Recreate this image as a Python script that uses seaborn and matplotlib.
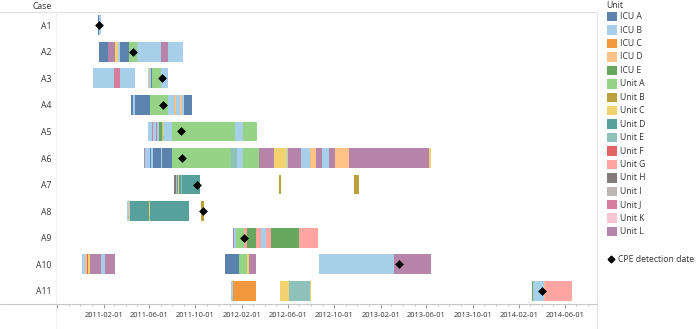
import numpy as np
import pandas as pd
import seaborn as sns
import matplotlib.pyplot as plt
import matplotlib.dates as mdates
from matplotlib.patches import Rectangle
from matplotlib.lines import Line2D
from matplotlib.ticker import FuncFormatter

# cases (rows) and units (colours)
cases = ['A1', 'A2', 'A3', 'A4', 'A5', 'A6', 'A7', 'A8', 'A9', 'A10', 'A11']
units = ['ICU A', 'ICU B', 'ICU C', 'ICU D', 'ICU E', 'Unit A', 'Unit B', 'Unit C', 'Unit D',
         'Unit E', 'Unit F', 'Unit G', 'Unit H', 'Unit I', 'Unit J', 'Unit K', 'Unit L']
unit_colors = ['#4E79A7', '#A0CBE8', '#F28E2B', '#FFBE7D', '#59A14F', '#8CD17D', '#B6992D', '#F1CE63',
               '#499894', '#86BCB6', '#E15759', '#FF9D9A', '#79706E', '#BAB0AC', '#D37295', '#FABFD2',
               '#B07AA1']

# ward stays, one line per case
seg_case = [
    'A1', 'A1',
    'A2', 'A2', 'A2', 'A2', 'A2', 'A2', 'A2', 'A2', 'A2',
    'A3', 'A3', 'A3', 'A3', 'A3', 'A3', 'A3', 'A3',
    'A4', 'A4', 'A4', 'A4', 'A4', 'A4', 'A4', 'A4', 'A4', 'A4',
    'A5', 'A5', 'A5', 'A5', 'A5', 'A5', 'A5', 'A5', 'A5', 'A5', 'A5', 'A5',
    'A6', 'A6', 'A6', 'A6', 'A6', 'A6', 'A6', 'A6', 'A6', 'A6', 'A6', 'A6',
    'A6', 'A6', 'A6', 'A6', 'A6', 'A6', 'A6', 'A6', 'A6', 'A6', 'A6',
    'A7', 'A7', 'A7', 'A7', 'A7', 'A7', 'A7', 'A7', 'A7',
    'A8', 'A8', 'A8', 'A8', 'A8', 'A8',
    'A9', 'A9', 'A9', 'A9', 'A9', 'A9', 'A9', 'A9', 'A9', 'A9',
    'A10', 'A10', 'A10', 'A10', 'A10', 'A10', 'A10', 'A10', 'A10', 'A10', 'A10', 'A10', 'A10',
    'A11', 'A11', 'A11', 'A11', 'A11', 'A11', 'A11', 'A11', 'A11',
]
seg_unit = [
    'ICU A', 'ICU B',
    'ICU A', 'Unit L', 'Unit C', 'ICU B', 'ICU A', 'Unit A', 'ICU B', 'Unit L', 'ICU B',
    'ICU B', 'Unit J', 'ICU B', 'ICU D', 'ICU B', 'ICU A', 'Unit A', 'ICU B',
    'ICU A', 'ICU B', 'ICU A', 'Unit A', 'ICU B', 'ICU D', 'ICU B', 'ICU D', 'ICU B', 'ICU A',
    'ICU B', 'Unit J', 'ICU B', 'Unit L', 'ICU B', 'ICU E', 'Unit A', 'ICU D', 'ICU B', 'Unit A', 'ICU B', 'Unit A',
    'Unit L', 'ICU B', 'ICU A', 'ICU B', 'ICU A', 'ICU B', 'ICU A', 'Unit A', 'Unit E', 'ICU B', 'Unit A', 'Unit L',
    'Unit C', 'ICU B', 'Unit L', 'ICU B', 'ICU D', 'Unit L', 'ICU B', 'Unit L', 'ICU D', 'Unit L', 'Unit C',
    'Unit H', 'Unit I', 'Unit D', 'Unit C', 'Unit D', 'Unit E', 'Unit D', 'Unit B', 'Unit B',
    'ICU B', 'ICU D', 'Unit D', 'Unit C', 'Unit D', 'Unit B',
    'Unit L', 'ICU B', 'Unit A', 'Unit G', 'ICU E', 'Unit G', 'ICU B', 'Unit G', 'ICU E', 'Unit G',
    'ICU B', 'ICU D', 'Unit F', 'Unit C', 'Unit L', 'ICU B', 'Unit L', 'ICU A', 'Unit A', 'Unit C', 'Unit L', 'ICU B', 'Unit L',
    'ICU B', 'ICU C', 'Unit C', 'Unit E', 'Unit C', 'ICU E', 'ICU B', 'ICU D', 'Unit G',
]
seg_start = [
    '2011-01-16', '2011-01-20',
    '2011-01-21', '2011-02-12', '2011-03-04', '2011-03-12', '2011-03-17', '2011-04-10', '2011-05-01', '2011-07-03', '2011-07-21',
    '2011-01-04', '2011-03-01', '2011-03-15', '2011-05-28', '2011-06-01', '2011-06-05', '2011-06-08', '2011-07-03',
    '2011-04-15', '2011-04-20', '2011-04-24', '2011-06-02', '2011-07-20', '2011-08-05', '2011-08-10', '2011-08-22', '2011-08-26', '2011-09-01',
    '2011-05-30', '2011-06-09', '2011-06-11', '2011-06-19', '2011-06-22', '2011-06-27', '2011-07-05', '2011-07-08', '2011-07-10', '2011-07-30', '2012-01-14', '2012-02-03',
    '2011-05-18', '2011-05-20', '2011-06-04', '2011-06-07', '2011-06-11', '2011-07-02', '2011-07-05', '2011-07-31', '2012-01-03', '2012-01-18', '2012-02-03', '2012-03-17',
    '2012-04-26', '2012-05-29', '2012-06-02', '2012-07-06', '2012-07-29', '2012-08-13', '2012-08-29', '2012-09-16', '2012-10-04', '2012-11-09', '2013-06-08',
    '2011-08-06', '2011-08-10', '2011-08-13', '2011-08-17', '2011-08-20', '2011-08-23', '2011-08-26', '2012-05-09', '2012-11-23',
    '2011-04-03', '2011-04-09', '2011-04-12', '2011-06-01', '2011-06-03', '2011-10-17',
    '2012-01-07', '2012-01-10', '2012-01-17', '2012-02-05', '2012-02-15', '2012-03-09', '2012-03-21', '2012-04-05', '2012-04-18', '2012-06-29',
    '2010-12-05', '2010-12-14', '2010-12-18', '2010-12-23', '2010-12-27', '2011-01-24', '2011-02-05', '2011-12-19', '2012-01-24', '2012-02-15', '2012-02-18', '2012-08-22', '2013-03-08',
    '2012-01-03', '2012-01-09', '2012-05-10', '2012-06-04', '2012-07-29', '2014-03-06', '2014-03-09', '2014-04-06', '2014-04-11',
]
seg_end = [
    '2011-01-20', '2011-01-24',
    '2011-02-12', '2011-03-04', '2011-03-12', '2011-03-17', '2011-04-10', '2011-05-01', '2011-07-03', '2011-07-21', '2011-08-28',
    '2011-03-01', '2011-03-15', '2011-04-24', '2011-06-01', '2011-06-05', '2011-06-08', '2011-07-03', '2011-07-20',
    '2011-04-20', '2011-04-24', '2011-06-02', '2011-07-20', '2011-08-05', '2011-08-10', '2011-08-22', '2011-08-26', '2011-09-01', '2011-09-22',
    '2011-06-09', '2011-06-11', '2011-06-19', '2011-06-22', '2011-06-27', '2011-07-05', '2011-07-08', '2011-07-10', '2011-07-30', '2012-01-14', '2012-02-03', '2012-03-11',
    '2011-05-20', '2011-06-04', '2011-06-07', '2011-06-11', '2011-07-02', '2011-07-05', '2011-07-31', '2012-01-03', '2012-01-18', '2012-02-03', '2012-03-17', '2012-04-26',
    '2012-05-29', '2012-06-02', '2012-07-06', '2012-07-29', '2012-08-13', '2012-08-29', '2012-09-16', '2012-10-04', '2012-11-09', '2013-06-08', '2013-06-13',
    '2011-08-10', '2011-08-13', '2011-08-17', '2011-08-20', '2011-08-23', '2011-08-26', '2011-10-14', '2012-05-14', '2012-12-05',
    '2011-04-09', '2011-04-12', '2011-06-01', '2011-06-03', '2011-09-15', '2011-10-24',
    '2012-01-10', '2012-01-17', '2012-02-05', '2012-02-15', '2012-03-09', '2012-03-21', '2012-04-05', '2012-04-18', '2012-06-29', '2012-08-19',
    '2010-12-14', '2010-12-18', '2010-12-23', '2010-12-27', '2011-01-24', '2011-02-05', '2011-03-04', '2012-01-24', '2012-02-15', '2012-02-18', '2012-03-08', '2013-03-08', '2013-06-13',
    '2012-01-09', '2012-03-08', '2012-06-04', '2012-07-29', '2012-08-02', '2014-03-09', '2014-04-06', '2014-04-11', '2014-06-19',
]

# CPE detection dates, one per case
detect_date = ['2011-01-21', '2011-04-20', '2011-07-05', '2011-07-07', '2011-08-24', '2011-08-26',
               '2011-10-05', '2011-10-21', '2012-02-05', '2013-03-21', '2014-04-03']

x_range = ['2010-10-01', '2014-08-25']

sns.set_theme(style='white')
plt.rcParams['font.family'] = ['Open Sans', 'DejaVu Sans']
txt = '#333333'
fs = 6.2

W, H = 696, 329
fig = plt.figure(figsize=(W / 100, H / 100), dpi=100)
ax = fig.add_axes([57 / W, 1 - 304 / H, (597 - 57) / W, (304 - 12) / H])

df = pd.DataFrame({'case': seg_case, 'unit': seg_unit,
                   'start': pd.to_datetime(seg_start), 'end': pd.to_datetime(seg_end)})
df['y'] = df['case'].map({c: i for i, c in enumerate(cases)})
color_map = dict(zip(units, unit_colors))
left = mdates.date2num(df['start'])
width = mdates.date2num(df['end']) - left
ax.barh(df['y'], width, left=left, height=0.75, color=df['unit'].map(color_map), linewidth=0, alpha=0.92)

det = pd.DataFrame({'x': mdates.date2num(pd.to_datetime(detect_date)), 'y': np.arange(len(cases))})
sns.scatterplot(data=det, x='x', y='y', marker='D', color='black', s=20, linewidth=0, ax=ax, zorder=5)

ax.set_xlim(mdates.date2num(pd.to_datetime(x_range)))
ax.set_ylim(len(cases) - 0.5, -0.5)
ax.set_yticks(range(len(cases)))
ax.set_yticklabels(cases)
ax.set_xlabel('')
ax.set_ylabel('')
for s in ax.spines.values():
    s.set_visible(False)

ax.xaxis.set_major_locator(mdates.MonthLocator(bymonth=[2, 6, 10]))
ax.xaxis.set_minor_locator(mdates.MonthLocator())
ax.xaxis.set_major_formatter(FuncFormatter(
    lambda v, _: '' if mdates.num2date(v).year < 2011 else mdates.num2date(v).strftime('%Y-%m-%d')))
ax.tick_params(axis='x', which='major', length=3, width=0.6, color='#888888', labelsize=5.4,
               labelcolor=txt, pad=3, bottom=True)
ax.tick_params(axis='x', which='minor', length=1.5, width=0.5, color='#aaaaaa', bottom=True)
ax.tick_params(axis='y', length=0, labelsize=fs, labelcolor=txt, pad=4)


def fx(x):
    return x / W


def fy(y):
    return 1 - y / H


# frame lines in the Tableau style
fig.add_artist(Line2D([fx(0), fx(597)], [fy(12), fy(12)], color='#e2e2e2', lw=0.8))
fig.add_artist(Line2D([fx(597), fx(597)], [fy(12), fy(329)], color='#e2e2e2', lw=0.8))
fig.add_artist(Line2D([fx(56), fx(56)], [fy(12), fy(329)], color='#f0f0f0', lw=0.8))
fig.add_artist(Line2D([fx(0), fx(597)], [fy(304), fy(304)], color='#c8c8c8', lw=0.8))

fig.text(fx(52), fy(6.5), 'Case', ha='right', va='center', fontsize=fs, color=txt)

# legend
fig.text(fx(606), fy(5.5), 'Unit', ha='left', va='center', fontsize=fs, color=txt)
for i, (u, c) in enumerate(zip(units, unit_colors)):
    yc = 16.7 + i * 13.43
    fig.add_artist(Rectangle((fx(607.3), fy(yc + 4.7)), 9.4 / W, 9.4 / H, transform=fig.transFigure,
                             facecolor=c, edgecolor='none', alpha=0.92))
    fig.text(fx(620), fy(yc), u, ha='left', va='center', fontsize=fs, color=txt)
fig.add_artist(Line2D([fx(611)], [fy(259.3)], marker='D', markersize=3.4, color='black', lw=0))
fig.text(fx(618), fy(259.3), 'CPE detection date', ha='left', va='center', fontsize=fs, color=txt)

fig.savefig('out.png', dpi=100)
